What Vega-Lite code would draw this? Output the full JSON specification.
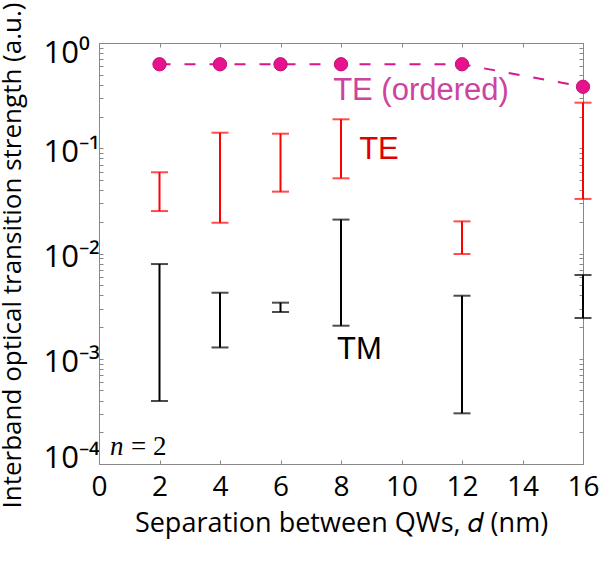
{
  "$schema": "https://vega.github.io/schema/vega-lite/v6.json",
  "width": 484,
  "height": 421,
  "autosize": {"type": "none"},
  "padding": {"left": 99, "top": 43, "right": 18, "bottom": 97},
  "background": "white",
  "config": {"view": {"stroke": null}},
  "datasets": {
    "bars": [
      {"d": 2, "pol": "TE", "lo": 0.0253, "hi": 0.0591},
      {"d": 4, "pol": "TE", "lo": 0.0196, "hi": 0.1405},
      {"d": 6, "pol": "TE", "lo": 0.0387, "hi": 0.1375},
      {"d": 8, "pol": "TE", "lo": 0.0518, "hi": 0.1884},
      {"d": 12, "pol": "TE", "lo": 0.00989, "hi": 0.0202},
      {"d": 16, "pol": "TE", "lo": 0.033, "hi": 0.271},
      {"d": 2, "pol": "TM", "lo": 0.000397, "hi": 0.00794},
      {"d": 4, "pol": "TM", "lo": 0.00128, "hi": 0.00424},
      {"d": 6, "pol": "TM", "lo": 0.00278, "hi": 0.00341},
      {"d": 8, "pol": "TM", "lo": 0.00206, "hi": 0.021},
      {"d": 12, "pol": "TM", "lo": 0.000303, "hi": 0.00397},
      {"d": 16, "pol": "TM", "lo": 0.00244, "hi": 0.00625}
    ],
    "ordered": [
      {"d": 2, "v": 0.628},
      {"d": 4, "v": 0.628},
      {"d": 6, "v": 0.628},
      {"d": 8, "v": 0.628},
      {"d": 12, "v": 0.628},
      {"d": 16, "v": 0.384}
    ]
  },
  "layer": [
    {
      "data": {"name": "bars"},
      "mark": {"type": "rule", "strokeWidth": 2},
      "encoding": {
        "x": {"field": "d", "type": "quantitative",
          "scale": {"domain": [0, 16], "nice": false, "zero": false},
          "axis": {
            "orient": "bottom", "values": [0, 2, 4, 6, 8, 10, 12, 14, 16],
            "grid": false, "tickSize": -4, "tickColor": "#888888", "domainColor": "#888888",
            "labelFont": "Open Sans", "labelFontSize": 28, "labelColor": "black", "labelPadding": 13,
            "labelFlush": false, "labelBound": false, "labelOverlap": false,
            "title": "Separation between QWs, 𝑑 (nm)", "titleFont": "Open Sans", "titleFontSize": 27,
            "titleFontWeight": "normal", "titleColor": "black", "titleBaseline": "alphabetic", "titleY": 67
          }},
        "y": {"field": "lo", "type": "quantitative",
          "scale": {"type": "log", "domain": [0.0001, 1], "nice": false},
          "axis": {
            "orient": "left", "grid": false, "tickSize": -4, "tickColor": "#888888", "domainColor": "#888888",
            "labelExpr": "abs(log(datum.value)/LN10 - round(log(datum.value)/LN10)) < 0.001 ? (round(log(datum.value)/LN10) == 0 ? '10⁰' : round(log(datum.value)/LN10) == -1 ? '10⁻¹' : round(log(datum.value)/LN10) == -2 ? '10⁻²' : round(log(datum.value)/LN10) == -3 ? '10⁻³' : '10⁻⁴') : ''",
            "labelFont": "Open Sans", "labelFontSize": 31, "labelColor": "black",
            "labelAlign": "left", "labelBaseline": "middle", "labelPadding": 60,
            "labelOverlap": false, "labelBound": false, "labelFlush": false,
            "labelOffset": {"condition": [{"test": "datum.value > 0.5", "value": 10}, {"test": "datum.value < 0.0002", "value": -6}], "value": 4},
            "title": "Interband optical transition strength (a.u.)", "titleFont": "Open Sans", "titleFontSize": 26,
            "titleFontWeight": "normal", "titleColor": "black", "titleAngle": -90, "titleAlign": "center",
            "titleBaseline": "alphabetic", "titleX": -79, "titleY": 212
          }},
        "y2": {"field": "hi"},
        "color": {"field": "pol", "type": "nominal", "scale": {"domain": ["TE", "TM"], "range": ["#ff0000", "#000000"]}, "legend": null}
      }
    },
    {
      "data": {"name": "bars"},
      "mark": {"type": "tick", "orient": "horizontal", "size": 17, "thickness": 2},
      "encoding": {
        "x": {"field": "d", "type": "quantitative", "scale": {"domain": [0, 16], "nice": false, "zero": false}, "axis": null},
        "y": {"field": "lo", "type": "quantitative", "scale": {"type": "log", "domain": [0.0001, 1], "nice": false}, "axis": null},
        "color": {"field": "pol", "type": "nominal", "scale": {"domain": ["TE", "TM"], "range": ["#ff0000", "#000000"]}, "legend": null}
      }
    },
    {
      "data": {"name": "bars"},
      "mark": {"type": "tick", "orient": "horizontal", "size": 17, "thickness": 2},
      "encoding": {
        "x": {"field": "d", "type": "quantitative", "scale": {"domain": [0, 16], "nice": false, "zero": false}, "axis": null},
        "y": {"field": "hi", "type": "quantitative", "scale": {"type": "log", "domain": [0.0001, 1], "nice": false}, "axis": null},
        "color": {"field": "pol", "type": "nominal", "scale": {"domain": ["TE", "TM"], "range": ["#ff0000", "#000000"]}, "legend": null}
      }
    },
    {
      "data": {"name": "ordered"},
      "mark": {"type": "line", "color": "#d8168e", "strokeWidth": 2, "strokeDash": [11, 14]},
      "encoding": {
        "x": {"field": "d", "type": "quantitative", "scale": {"domain": [0, 16], "nice": false, "zero": false},
          "axis": {"orient": "top", "values": [0, 2, 4, 6, 8, 10, 12, 14, 16], "labels": false, "title": null, "grid": false,
            "tickSize": -4, "tickColor": "#888888", "domainColor": "#888888"}},
        "y": {"field": "v", "type": "quantitative", "scale": {"type": "log", "domain": [0.0001, 1], "nice": false},
          "axis": {"orient": "right", "labels": false, "title": null, "grid": false,
            "tickSize": -4, "tickColor": "#888888", "domainColor": "#888888"}}
      }
    },
    {
      "data": {"name": "ordered"},
      "mark": {"type": "point", "filled": true, "size": 177, "color": "#e6138c", "opacity": 1, "stroke": "#c40f78", "strokeWidth": 1},
      "encoding": {
        "x": {"field": "d", "type": "quantitative", "scale": {"domain": [0, 16], "nice": false, "zero": false}, "axis": null},
        "y": {"field": "v", "type": "quantitative", "scale": {"type": "log", "domain": [0.0001, 1], "nice": false}, "axis": null}
      }
    },
    {
      "data": {"values": [{"d": 7.74, "v": 0.287, "label": "TE (ordered)"}]},
      "mark": {"type": "text", "font": "Liberation Sans", "fontSize": 31, "color": "#cc44a0", "align": "left", "baseline": "alphabetic"},
      "encoding": {
        "x": {"field": "d", "type": "quantitative", "scale": {"domain": [0, 16], "nice": false, "zero": false}, "axis": null},
        "y": {"field": "v", "type": "quantitative", "scale": {"type": "log", "domain": [0.0001, 1], "nice": false}, "axis": null},
        "text": {"field": "label"}
      }
    },
    {
      "data": {"values": [{"d": 8.6, "v": 0.0791, "label": "TE"}]},
      "mark": {"type": "text", "font": "Liberation Sans", "fontSize": 31, "color": "#e00000", "align": "left", "baseline": "alphabetic"},
      "encoding": {
        "x": {"field": "d", "type": "quantitative", "scale": {"domain": [0, 16], "nice": false, "zero": false}, "axis": null},
        "y": {"field": "v", "type": "quantitative", "scale": {"type": "log", "domain": [0.0001, 1], "nice": false}, "axis": null},
        "text": {"field": "label"}
      }
    },
    {
      "data": {"values": [{"d": 7.87, "v": 0.000989, "label": "TM"}]},
      "mark": {"type": "text", "font": "Liberation Sans", "fontSize": 31, "color": "#000000", "align": "left", "baseline": "alphabetic"},
      "encoding": {
        "x": {"field": "d", "type": "quantitative", "scale": {"domain": [0, 16], "nice": false, "zero": false}, "axis": null},
        "y": {"field": "v", "type": "quantitative", "scale": {"type": "log", "domain": [0.0001, 1], "nice": false}, "axis": null},
        "text": {"field": "label"}
      }
    },
    {
      "data": {"values": [{"d": 0.36, "v": 0.000122, "label": "n"}]},
      "mark": {"type": "text", "font": "Liberation Serif", "fontStyle": "italic", "fontSize": 27, "color": "#000000", "align": "left", "baseline": "alphabetic"},
      "encoding": {
        "x": {"field": "d", "type": "quantitative", "scale": {"domain": [0, 16], "nice": false, "zero": false}, "axis": null},
        "y": {"field": "v", "type": "quantitative", "scale": {"type": "log", "domain": [0.0001, 1], "nice": false}, "axis": null},
        "text": {"field": "label"}
      }
    },
    {
      "data": {"values": [{"d": 1.06, "v": 0.000122, "label": "= 2"}]},
      "mark": {"type": "text", "font": "Liberation Serif", "fontSize": 27, "color": "#000000", "align": "left", "baseline": "alphabetic"},
      "encoding": {
        "x": {"field": "d", "type": "quantitative", "scale": {"domain": [0, 16], "nice": false, "zero": false}, "axis": null},
        "y": {"field": "v", "type": "quantitative", "scale": {"type": "log", "domain": [0.0001, 1], "nice": false}, "axis": null},
        "text": {"field": "label"}
      }
    }
  ],
  "resolve": {"axis": {"x": "independent", "y": "independent"}}
}
